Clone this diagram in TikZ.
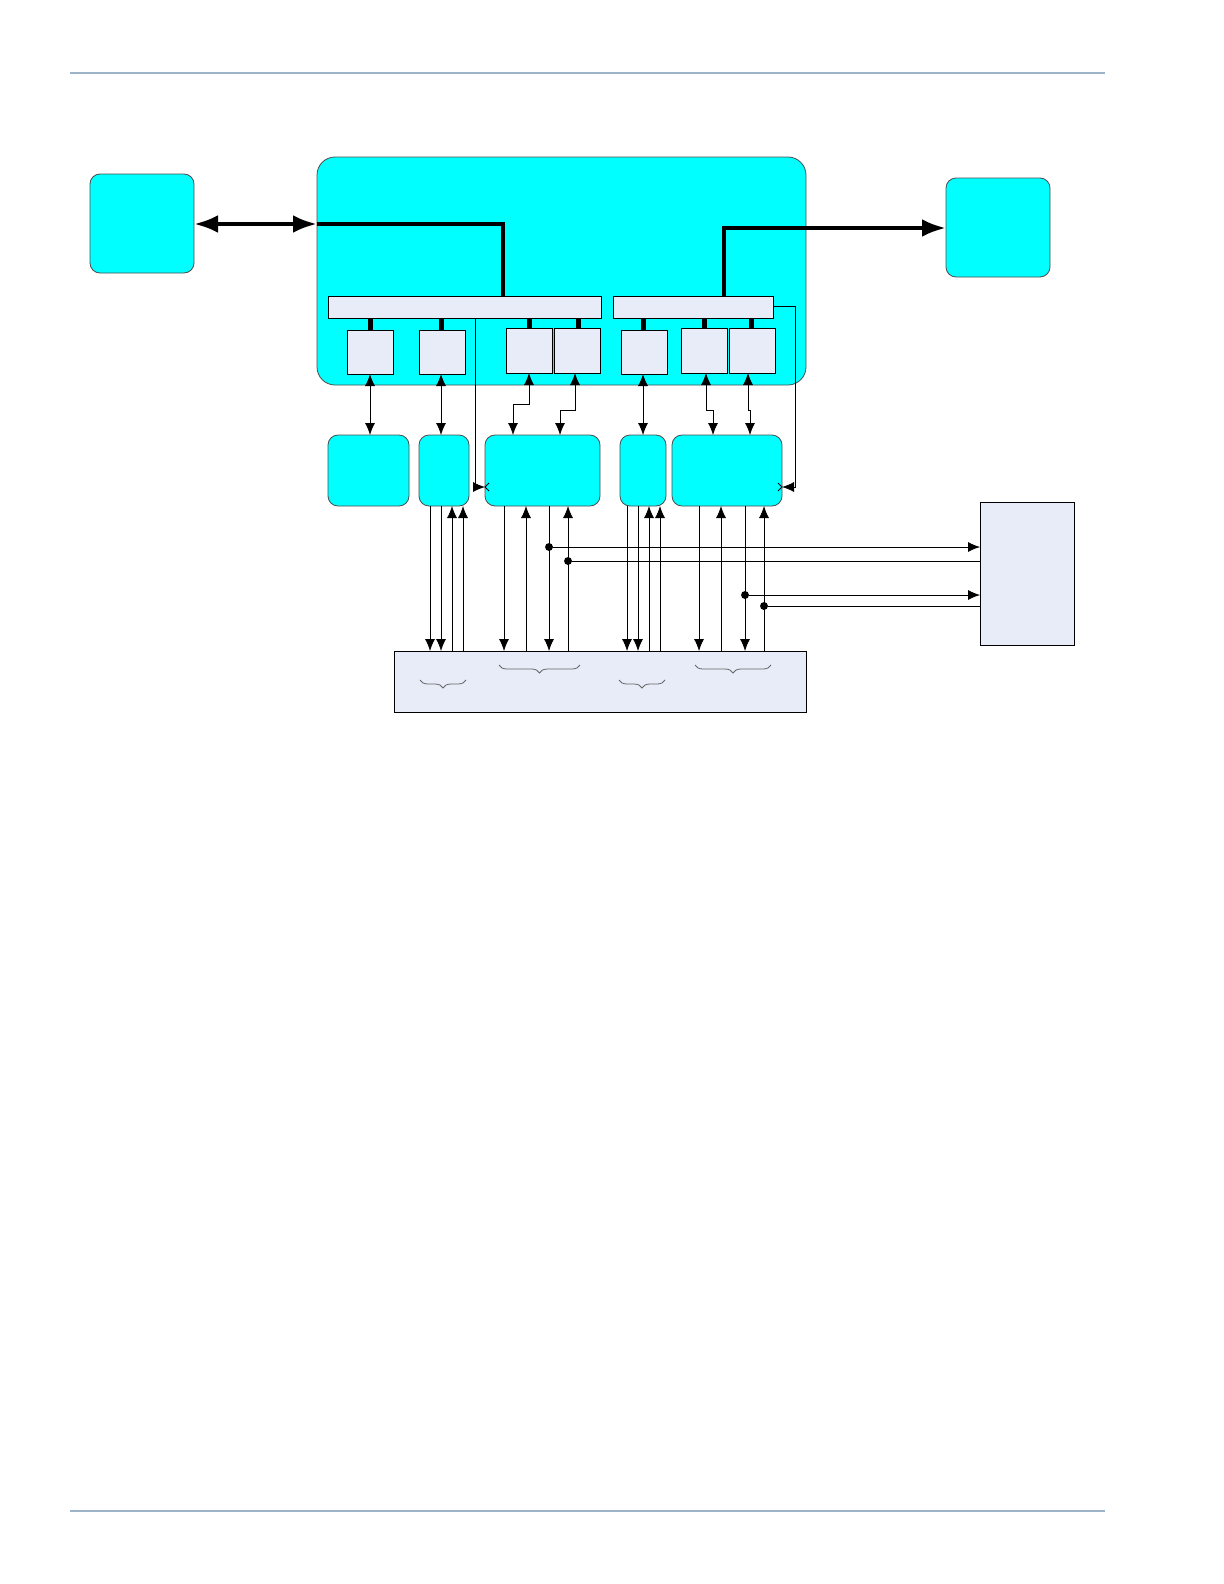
\documentclass[tikz,border=0pt]{standalone}
\usetikzlibrary{arrows.meta,decorations.pathreplacing}
\definecolor{cy}{HTML}{00FFFF}
\definecolor{lav}{HTML}{E8ECF8}
\definecolor{rule}{HTML}{9DB3C8}
\begin{document}
\begin{tikzpicture}[x=0.5pt,y=-0.5pt,
 cbox/.style={draw=black!70,fill=cy,rounded corners=5pt},
 lbox/.style={draw=black,fill=lav},
 thk/.style={line width=2.2pt},
 ar/.style={-{Latex[length=6pt,width=5pt]},thin},
 dar/.style={{Latex[length=6pt,width=5pt]}-{Latex[length=6pt,width=5pt]},thin},
 dot/.style={circle,fill=black,inner sep=1.4pt}]
\useasboundingbox (0,0) rectangle (1224,1584);
\draw[rule,line width=1pt] (70,73)--(1105,73);
\draw[rule,line width=1pt] (70,1511)--(1105,1511);
\draw[cbox] (90,174) rectangle (194,273) coordinate(Lb);
\node (L) at (142,224) {};
\draw[cbox] (946,178) rectangle (1050,277);
\draw[cbox,rounded corners=9pt] (317,157) rectangle (806,385);
\draw[lbox] (328,296) rectangle (601,318);
\draw[lbox] (613,296) rectangle (773,318);
% thick paths
\draw[thk,{Latex[length=12pt,width=9pt]}-{Latex[length=12pt,width=9pt]}] (194,224)--(317,224);
\draw[thk] (317,224)--(503,224)--(503,296);
\draw[thk,-{Latex[length=12pt,width=9pt]}] (724,296)--(724,228)--(946,228);
% small boxes
\foreach \a/\b/\t/\bt in {347/393/330/374,419/465/330/374,506/552/328/373,554/600/328/373,621/667/330/374,681/727/328/373,729/775/328/373}{
 \draw[lbox] (\a,\t) rectangle (\b,\bt);}
\foreach \x/\t in {370/330,441/330,529/328,578/328,643/330,704/328,751/328}{
 \draw[line width=2.5pt] (\x,318)--(\x,\t);}
% lower boxes
\foreach \a/\b in {328/409,419/469,485/600,620/666,672/782}{
 \draw[cbox] (\a,435) rectangle (\b,506);}
\draw[dar] (370,374)--(370,435);
\draw[dar] (441,374)--(441,435);
\draw[dar] (643,374)--(643,435);
\draw[dar] (529,373)--(529,404)--(513,404)--(513,435);
\draw[dar] (575,373)--(575,410)--(560,410)--(560,435);
\draw[dar] (706,373)--(706,410)--(713,410)--(713,435);
\draw[dar] (748,373)--(748,410)--(750,410)--(750,435);
\draw[ar] (475,318)--(475,487)--(485,487);
\draw[ar] (773,306)--(795,306)--(795,487)--(782,487);
\draw[thin] (489,483)--(485,487)--(489,491);
\draw[thin] (778,483)--(782,487)--(778,491);
% bottom boxes
\draw[lbox] (394,651) rectangle (806,712);
\draw[lbox] (980,502) rectangle (1074,645);
\foreach \x in {430,441,504,549,627,638,699,745}{\draw[ar] (\x,506)--(\x,651);}
\foreach \x in {452,463,526,568,649,660,721,764}{\draw[ar] (\x,651)--(\x,506);}
\node[dot] (d1) at (549,547) {}; \draw[ar] (d1)--(980,547);
\node[dot] (d2) at (568,561) {}; \draw[thin] (d2)--(980,561);
\node[dot] (d3) at (745,595) {}; \draw[ar] (d3)--(980,595);
\node[dot] (d4) at (764,606) {}; \draw[thin] (d4)--(980,606);
% braces
\foreach \a/\b/\y in {466/420/680,580/499/665,665/619/680,771/695/665}{
 \draw[black!60,thin,decorate,decoration={brace,amplitude=4pt}] (\a,\y)--(\b,\y);}
\end{tikzpicture}
\end{document}
